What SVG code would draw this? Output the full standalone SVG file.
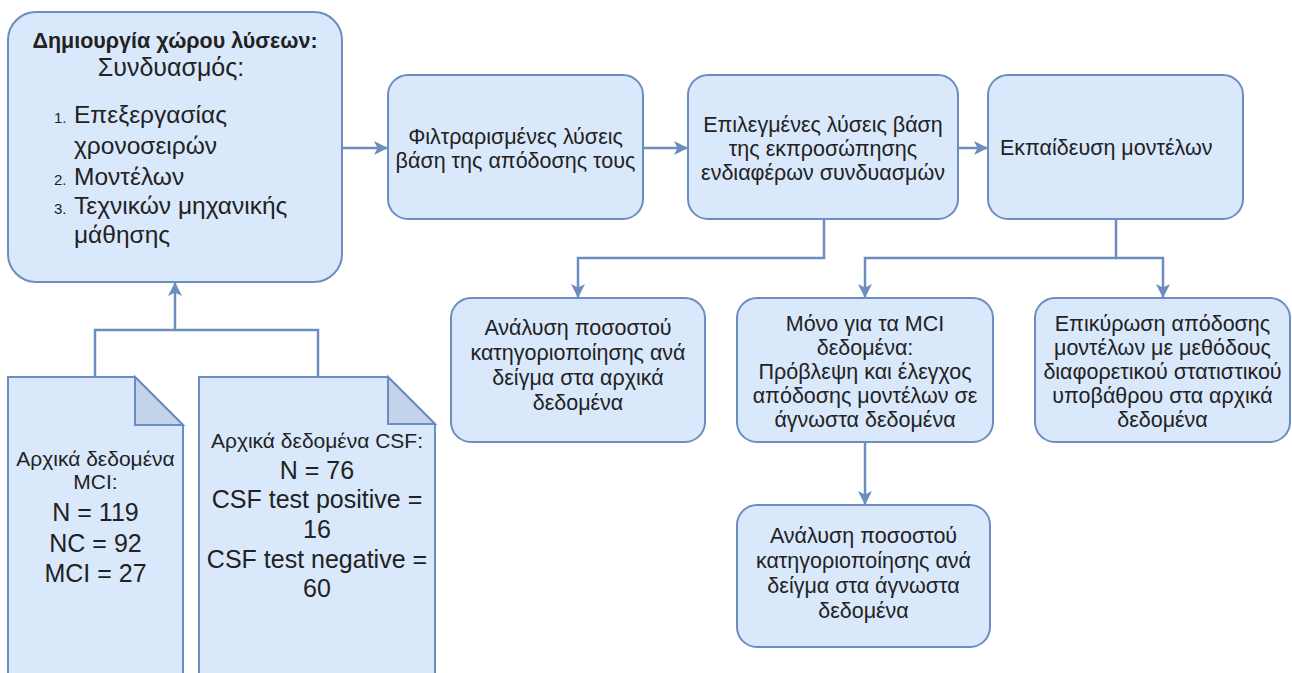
<svg xmlns="http://www.w3.org/2000/svg" width="1292" height="673" viewBox="0 0 1292 673">
<defs>
<style>
.box{fill:#dae8fc;stroke:#6c8ebf;stroke-width:2}
.fold{fill:#c3d3ea;stroke:#6c8ebf;stroke-width:2;stroke-linejoin:miter}
.edge{fill:none;stroke:#6c8ebf;stroke-width:2.5}
text{font-family:"Liberation Sans",Arial,sans-serif;fill:#222}
.t{font-size:21.5px;text-anchor:middle}
.s{font-size:21px;text-anchor:middle}
.b{font-size:25px;text-anchor:middle}
.l{font-size:24.5px}
.n{font-size:15px}
</style>
<marker id="arr" viewBox="0 0 14 14" refX="13" refY="7" markerWidth="14" markerHeight="14" markerUnits="userSpaceOnUse" orient="auto">
<path d="M0,0 L14,7 L0,14 L3.5,7 Z" fill="#6c8ebf"/>
</marker>
</defs>

<g id="connectors">
<path class="edge" d="M342,148 H387" marker-end="url(#arr)"/>
<path class="edge" d="M643,148 H687" marker-end="url(#arr)"/>
<path class="edge" d="M958,148 H987" marker-end="url(#arr)"/>
<path class="edge" d="M824,219 V258 H578 V297" marker-end="url(#arr)"/>
<path class="edge" d="M1116,219 V258 H865 V297" marker-end="url(#arr)"/>
<path class="edge" d="M1116,258 H1163 V297" marker-end="url(#arr)"/>
<path class="edge" d="M865,442 V504" marker-end="url(#arr)"/>
<path class="edge" d="M95,377 V330 H318 V377"/>
<path class="edge" d="M175,330 V283" marker-end="url(#arr)"/>
</g>

<g id="n1">
<rect class="box" x="8" y="12" width="334" height="270" rx="28" ry="28"/>
<text x="175" y="48" style="font-size:21.5px;font-weight:bold;text-anchor:middle">Δημιουργία χώρου λύσεων:</text>
<text x="171" y="76" style="font-size:25px;text-anchor:middle">Συνδυασμός:</text>
<text x="54" y="123" class="n">1.</text>
<text x="74" y="123" class="l">Επεξεργασίας</text>
<text x="74" y="154" class="l">χρονοσειρών</text>
<text x="54" y="185" class="n">2.</text>
<text x="74" y="185" class="l">Μοντέλων</text>
<text x="54" y="214" class="n">3.</text>
<text x="74" y="214" class="l">Τεχνικών μηχανικής</text>
<text x="74" y="243" class="l">μάθησης</text>
</g>

<g id="n2">
<rect class="box" x="388" y="75" width="255" height="144" rx="20" ry="20"/>
<text class="t" x="515.5" y="144">Φιλτραρισμένες λύσεις</text>
<text class="t" x="515.5" y="168">βάση της απόδοσης τους</text>
</g>

<g id="n3">
<rect class="box" x="688" y="75" width="270" height="144" rx="20" ry="20"/>
<text class="t" x="823" y="132">Επιλεγμένες λύσεις βάση</text>
<text class="t" x="823" y="156">της εκπροσώπησης</text>
<text class="t" x="823" y="180">ενδιαφέρων συνδυασμών</text>
</g>

<g id="n4">
<rect class="box" x="988" y="75" width="255" height="144" rx="20" ry="20"/>
<text x="1000" y="155" style="font-size:21.5px">Εκπαίδευση μοντέλων</text>
</g>

<g id="n5">
<rect class="box" x="451" y="298" width="254" height="144" rx="20" ry="20"/>
<text class="t" x="578" y="335">Ανάλυση ποσοστού</text>
<text class="t" x="578" y="360">κατηγοριοποίησης ανά</text>
<text class="t" x="578" y="385">δείγμα στα αρχικά</text>
<text class="t" x="578" y="410">δεδομένα</text>
</g>

<g id="n6">
<rect class="box" x="737" y="298" width="256" height="144" rx="20" ry="20"/>
<text class="t" x="865" y="331">Μόνο για τα MCI</text>
<text class="t" x="865" y="355">δεδομένα:</text>
<text class="t" x="865" y="379">Πρόβλεψη και έλεγχος</text>
<text class="t" x="865" y="403">απόδοσης μοντέλων σε</text>
<text class="t" x="865" y="427">άγνωστα δεδομένα</text>
</g>

<g id="n7">
<rect class="box" x="1035" y="298" width="255" height="144" rx="20" ry="20"/>
<text class="t" x="1162.5" y="331">Επικύρωση απόδοσης</text>
<text class="t" x="1162.5" y="355">μοντέλων με μεθόδους</text>
<text class="t" x="1162.5" y="379">διαφορετικού στατιστικού</text>
<text class="t" x="1162.5" y="403">υποβάθρου στα αρχικά</text>
<text class="t" x="1162.5" y="427">δεδομένα</text>
</g>

<g id="n8">
<rect class="box" x="737" y="505" width="253" height="142" rx="20" ry="20"/>
<text class="t" x="863.5" y="543">Ανάλυση ποσοστού</text>
<text class="t" x="863.5" y="568">κατηγοριοποίησης ανά</text>
<text class="t" x="863.5" y="593">δείγμα στα άγνωστα</text>
<text class="t" x="863.5" y="618">δεδομένα</text>
</g>

<g id="n9">
<path class="box" d="M8,377 H135 L183,425 V690 H8 Z"/>
<path class="fold" d="M135,377 V425 H183 Z"/>
<text class="s" x="95.5" y="466">Αρχικά δεδομένα</text>
<text class="s" x="95.5" y="489">MCI:</text>
<text class="b" x="95.5" y="521">N = 119</text>
<text class="b" x="95.5" y="552">NC = 92</text>
<text class="b" x="95.5" y="582">MCI = 27</text>
</g>

<g id="n10">
<path class="box" d="M199,377 H388 L435,424 V690 H199 Z"/>
<path class="fold" d="M388,377 V424 H435 Z"/>
<text class="s" x="317" y="448">Αρχικά δεδομένα CSF:</text>
<text class="b" x="317" y="479">N = 76</text>
<text class="b" x="317" y="508">CSF test positive =</text>
<text class="b" x="317" y="538">16</text>
<text class="b" x="317" y="568">CSF test negative =</text>
<text class="b" x="317" y="597">60</text>
</g>
</svg>
